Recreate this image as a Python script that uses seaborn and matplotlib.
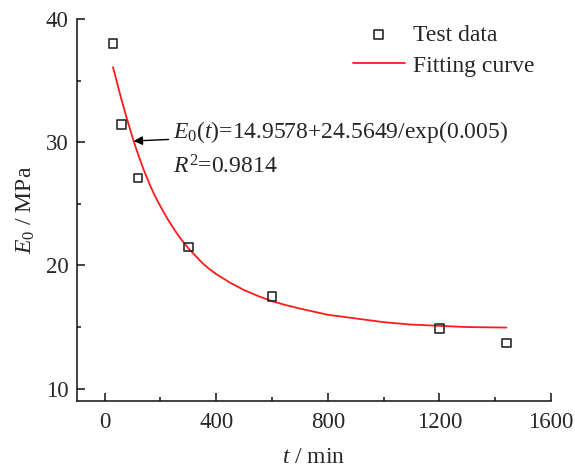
import matplotlib
matplotlib.use("Agg")
import matplotlib.pyplot as plt
import seaborn as sns
import pandas as pd

# Test data
t_test = [30, 60, 120, 300, 600, 1200, 1440]
e_test = [38.0, 31.45, 27.1, 21.5, 17.45, 14.87, 13.7]

# Fitting curve
t_fit = [30, 45, 60, 70, 80, 90, 100, 112, 125, 137, 150, 162, 175, 187, 200,
         225, 250, 275, 300, 325, 350, 375, 400, 450, 500, 550, 600, 650, 700,
         800, 900, 1000, 1100, 1200, 1300, 1440]
e_fit = [36.1, 34.8, 33.5, 32.7, 31.9, 31.15, 30.4, 29.55, 28.7, 27.95, 27.2,
         26.55, 25.9, 25.35, 24.8, 23.8, 22.9, 22.1, 21.4, 20.8, 20.2, 19.72,
         19.3, 18.6, 18.0, 17.52, 17.1, 16.78, 16.5, 16.0, 15.7, 15.4, 15.2,
         15.1, 15.0, 14.96]

x_ticks = [0, 400, 800, 1200, 1600]
y_ticks = [10, 20, 30, 40]

sns.set_theme(style="ticks")
plt.rcParams['font.family'] = ['Liberation Serif', 'DejaVu Serif']
plt.rcParams['mathtext.fontset'] = 'custom'
plt.rcParams['mathtext.rm'] = 'Liberation Serif'
plt.rcParams['mathtext.it'] = 'Liberation Serif:italic'
plt.rcParams['mathtext.bf'] = 'Liberation Serif:bold'

FS = 17
TFS = 16.5
fig = plt.figure(figsize=(5.75, 4.72), dpi=100)
ax = fig.add_axes([0.1334, 0.1504, 0.825, 0.8093])

df_test = pd.DataFrame({"t": t_test, "E": e_test})
df_fit = pd.DataFrame({"t": t_fit, "E": e_fit})

sns.scatterplot(data=df_test, x="t", y="E", ax=ax, marker="s", s=40,
                facecolor="none", edgecolor="#2a2a2a", linewidth=1.2,
                label="Test data", zorder=3)
sns.lineplot(data=df_fit, x="t", y="E", ax=ax, color="#ff1a1a", linewidth=1.3,
             label="Fitting curve", zorder=2)

ax.set_xlim(-100, 1600)
ax.set_ylim(9, 40)
ax.set_xticks(x_ticks)
ax.set_yticks(y_ticks)
ax.set_xticks([200, 600, 1000, 1400], minor=True)
ax.set_yticks([15, 25, 35], minor=True)
ax.tick_params(axis="both", which="major", direction="in", length=5.5, width=1.1,
               labelsize=TFS, color="#111111")
ax.tick_params(axis="both", which="minor", direction="in", length=2.8, width=1.1,
               color="#111111")
ax.tick_params(axis="x", which="major", pad=8)
ax.tick_params(axis="y", which="major", pad=6)
for s in ["left", "bottom"]:
    ax.spines[s].set_linewidth(1.1)
    ax.spines[s].set_color("#111111")
sns.despine(ax=ax)

ax.set_xlabel("$t$ / min", fontsize=FS, labelpad=10)
ax.set_ylabel("$E_0$ / MPa", fontsize=FS, labelpad=6)

ax.annotate("$E_0(t)$=14.9578+24.5649/exp(0.005)", xy=(104, 30.1),
            xytext=(246, 30.85), fontsize=FS, ha="left", va="center",
            arrowprops=dict(arrowstyle="-|>", color="black", lw=1.0,
                            mutation_scale=13, shrinkA=1, shrinkB=0))
ax.text(246, 27.98, "$R^2$=0.9814", fontsize=FS, ha="left", va="center")

leg = ax.legend(loc="upper right", bbox_to_anchor=(1.0, 1.03), frameon=False,
                fontsize=FS, handlelength=2.2, handletextpad=0.35,
                labelspacing=0.4, borderaxespad=0.3)

fig.savefig("out.png", dpi=100)
